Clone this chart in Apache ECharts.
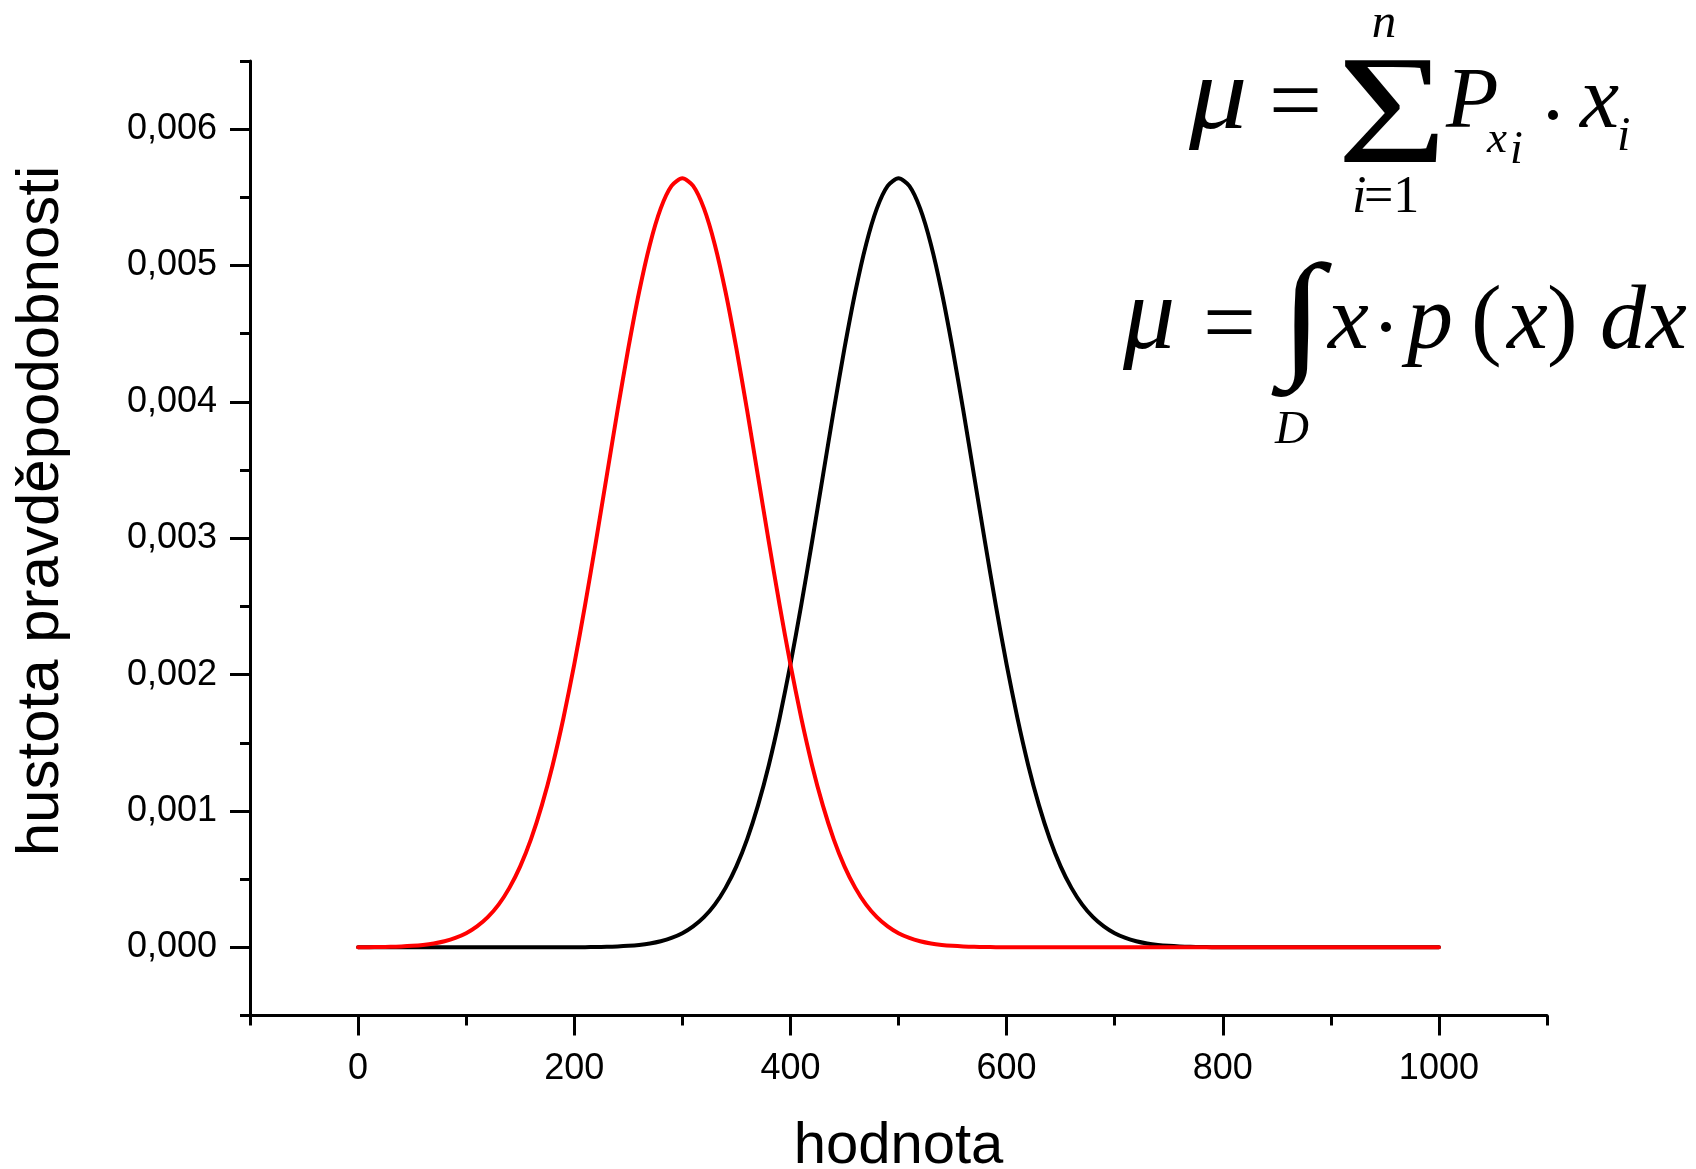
<!DOCTYPE html>
<html>
<head>
<meta charset="utf-8">
<script src="https://cdn.jsdelivr.net/npm/echarts@6/dist/echarts.min.js"></script>
<style>
  html, body { margin: 0; padding: 0; background: #fff; }
  #chart { width: 1696px; height: 1169px; }
</style>
</head>
<body>
<div id="chart"></div>
<script>
// data
const xValues = [
  0, 10, 20, 30, 40, 50, 60, 70, 80, 90,
  100, 110, 120, 130, 140, 150, 160, 170, 180, 190,
  200, 210, 220, 230, 240, 250, 260, 270, 280, 290,
  300, 310, 320, 330, 340, 350, 360, 370, 380, 390,
  400, 410, 420, 430, 440, 450, 460, 470, 480, 490,
  500, 510, 520, 530, 540, 550, 560, 570, 580, 590,
  600, 610, 620, 630, 640, 650, 660, 670, 680, 690,
  700, 710, 720, 730, 740, 750, 760, 770, 780, 790,
  800, 810, 820, 830, 840, 850, 860, 870, 880, 890,
  900, 910, 920, 930, 940, 950, 960, 970, 980, 990,
  1000
]

// red curve, peak at 300
const redDensity = [
  0.0000007, 0.0000013, 0.0000022, 0.0000039, 0.0000065, 0.0000109, 0.0000178, 0.0000284, 0.0000446, 0.0000686,
  0.000103, 0.000153, 0.000221, 0.000313, 0.000436, 0.000594, 0.000794, 0.001041, 0.001336, 0.001682,
  0.002075, 0.002509, 0.002974, 0.003455, 0.003935, 0.004392, 0.004806, 0.005155, 0.005419, 0.005584,
  0.00564, 0.005584, 0.005419, 0.005155, 0.004806, 0.004392, 0.003935, 0.003455, 0.002974, 0.002509,
  0.002075, 0.001682, 0.001336, 0.001041, 0.000794, 0.000594, 0.000436, 0.000313, 0.000221, 0.000153,
  0.000103, 0.0000686, 0.0000446, 0.0000284, 0.0000178, 0.0000109, 0.0000065, 0.0000039, 0.0000022, 0.0000013,
  0.0000007, 0, 0, 0, 0, 0, 0, 0, 0, 0,
  0, 0, 0, 0, 0, 0, 0, 0, 0, 0,
  0, 0, 0, 0, 0, 0, 0, 0, 0, 0,
  0, 0, 0, 0, 0, 0, 0, 0, 0, 0,
  0
]

// black curve, peak at 500
const blackDensity = [
  0, 0, 0, 0, 0, 0, 0, 0, 0, 0,
  0, 0, 0, 0, 0, 0, 0, 0, 0, 0,
  0.0000007, 0.0000013, 0.0000022, 0.0000039, 0.0000065, 0.0000109, 0.0000178, 0.0000284, 0.0000446, 0.0000686,
  0.000103, 0.000153, 0.000221, 0.000313, 0.000436, 0.000594, 0.000794, 0.001041, 0.001336, 0.001682,
  0.002075, 0.002509, 0.002974, 0.003455, 0.003935, 0.004392, 0.004806, 0.005155, 0.005419, 0.005584,
  0.00564, 0.005584, 0.005419, 0.005155, 0.004806, 0.004392, 0.003935, 0.003455, 0.002974, 0.002509,
  0.002075, 0.001682, 0.001336, 0.001041, 0.000794, 0.000594, 0.000436, 0.000313, 0.000221, 0.000153,
  0.000103, 0.0000686, 0.0000446, 0.0000284, 0.0000178, 0.0000109, 0.0000065, 0.0000039, 0.0000022, 0.0000013,
  0.0000007, 0, 0, 0, 0, 0, 0, 0, 0, 0,
  0, 0, 0, 0, 0, 0, 0, 0, 0, 0,
  0
]

// axis ticks
const xMajorTicks = [0, 200, 400, 600, 800, 1000]
const xMinorTicks = [-100, 100, 300, 500, 700, 900, 1100]
const yMajorTicks = [0, 0.001, 0.002, 0.003, 0.004, 0.005, 0.006]
const yMinorTicks = [-0.0005, 0.0005, 0.0015, 0.0025, 0.0035, 0.0045, 0.0055, 0.0065]

const xName = 'hodnota'
const yName = 'hustota pravděpodobnosti'

const SANS = '"Liberation Sans", Arial, sans-serif'
const SERIF = '"Liberation Serif", "Times New Roman", serif'

function pairs(ys) {
  return xValues.map((x, i) => [x, ys[i]])
}

// one glyph of the formulas, baseline is roughly where the letter sits
function glyph(text, x, baseline, size, italic, align, extra) {
  return Object.assign({
    type: 'text',
    x: x,
    y: baseline - 0.26 * size,
    silent: true,
    style: {
      text: text,
      fontFamily: SERIF,
      fontSize: size,
      fontStyle: italic ? 'italic' : 'normal',
      fill: '#000',
      align: align || 'left',
      verticalAlign: 'middle'
    }
  }, extra || {})
}

function dot(cx, cy, r) {
  return { type: 'circle', silent: true, shape: { cx: cx, cy: cy, r: r }, style: { fill: '#000' } }
}

// axis that only draws ticks
function tickAxis(base, ticks, len) {
  return Object.assign({}, base, {
    axisLine: { show: false, onZero: false },
    axisTick: { show: true, inside: false, length: len, customValues: ticks, lineStyle: { color: '#000', width: 3 } },
    axisLabel: { show: false },
    name: ''
  })
}

function renderChart() {
  const chart = echarts.init(document.getElementById('chart'))

  const xBase = {
    type: 'value',
    min: -100,
    max: 1100,
    position: 'bottom',
    gridIndex: 0,
    splitLine: { show: false }
  }
  const yBase = {
    type: 'value',
    min: -0.0005,
    max: 0.0065,
    position: 'left',
    gridIndex: 0,
    splitLine: { show: false }
  }

  const formulas = [
    // sum formula
    glyph('μ', 1189, 128, 104, true, 'left', { scaleX: 1.12 }),
    glyph('=', 1269, 131, 94, false),
    glyph('Σ', 1337, 162, 155, false, 'left', { scaleX: 1.22 }),
    glyph('n', 1384, 37, 49, true, 'center'),
    glyph('i', 1352, 212, 52, true),
    glyph('=1', 1364, 212, 52, false),
    glyph('P', 1446, 127, 86, true),
    glyph('x', 1487, 152, 45, true),
    glyph('i', 1510, 163, 46, true),
    dot(1553, 115, 5),
    glyph('x', 1580, 127, 88, true),
    glyph('i', 1617, 150, 48, true),
    // integral formula
    glyph('μ', 1123, 348, 104, true),
    glyph('=', 1203, 353, 94, false),
    glyph('∫', 1280, 360, 138, false, 'left', { scaleX: 1.16 }),
    glyph('D', 1292, 443, 47, true, 'center'),
    glyph('x', 1328, 348, 92, true),
    dot(1386, 327, 5),
    glyph('p', 1407, 348, 92, true),
    glyph('(', 1471, 348, 92, false),
    glyph('x', 1507, 348, 92, true),
    glyph(')', 1547, 348, 92, false),
    glyph('d', 1600, 348, 92, true),
    glyph('x', 1646, 348, 92, true)
  ]

  const option = {
    animation: false,
    backgroundColor: '#fff',
    grid: { left: 250, right: 149, top: 61, bottom: 153.5, outerBoundsMode: 'none', containLabel: false },
    xAxis: [
      Object.assign({}, xBase, {
        axisLine: { show: true, onZero: false, lineStyle: { color: '#000', width: 3 } },
        axisTick: { show: false },
        axisLabel: {
          show: true,
          customValues: xMajorTicks,
          margin: 36,
          color: '#000',
          fontSize: 36,
          fontFamily: SANS,
          formatter: v => String(v)
        },
        name: xName,
        nameLocation: 'middle',
        nameGap: 102,
        nameTextStyle: { color: '#000', fontSize: 58, fontFamily: SANS }
      }),
      tickAxis(xBase, xMajorTicks, 20),
      tickAxis(xBase, xMinorTicks, 10)
    ],
    yAxis: [
      Object.assign({}, yBase, {
        axisLine: { show: true, onZero: false, lineStyle: { color: '#000', width: 3 } },
        axisTick: { show: false },
        axisLabel: {
          show: true,
          customValues: yMajorTicks,
          margin: 33,
          color: '#000',
          fontSize: 36,
          fontFamily: SANS,
          formatter: v => v.toFixed(3).replace('.', ',')
        }
      }),
      tickAxis(yBase, yMajorTicks, 20),
      tickAxis(yBase, yMinorTicks, 10)
    ],
    graphic: [
      {
        type: 'text',
        x: 41,
        y: 511,
        rotation: Math.PI / 2,
        silent: true,
        style: {
          text: yName,
          fontFamily: SANS,
          fontSize: 60,
          fill: '#000',
          align: 'center',
          verticalAlign: 'middle'
        }
      }
    ].concat(formulas),
    series: [
      {
        name: 'black',
        type: 'line',
        data: pairs(blackDensity),
        showSymbol: false,
        smooth: 0.25,
        lineStyle: { color: '#000', width: 4, cap: 'round', join: 'round' },
        z: 2
      },
      {
        name: 'red',
        type: 'line',
        data: pairs(redDensity),
        showSymbol: false,
        smooth: 0.25,
        lineStyle: { color: '#ff0000', width: 4, cap: 'round', join: 'round' },
        z: 3
      }
    ]
  }
  chart.setOption(option)
}

document.addEventListener('DOMContentLoaded', renderChart)
</script>
</body>
</html>
